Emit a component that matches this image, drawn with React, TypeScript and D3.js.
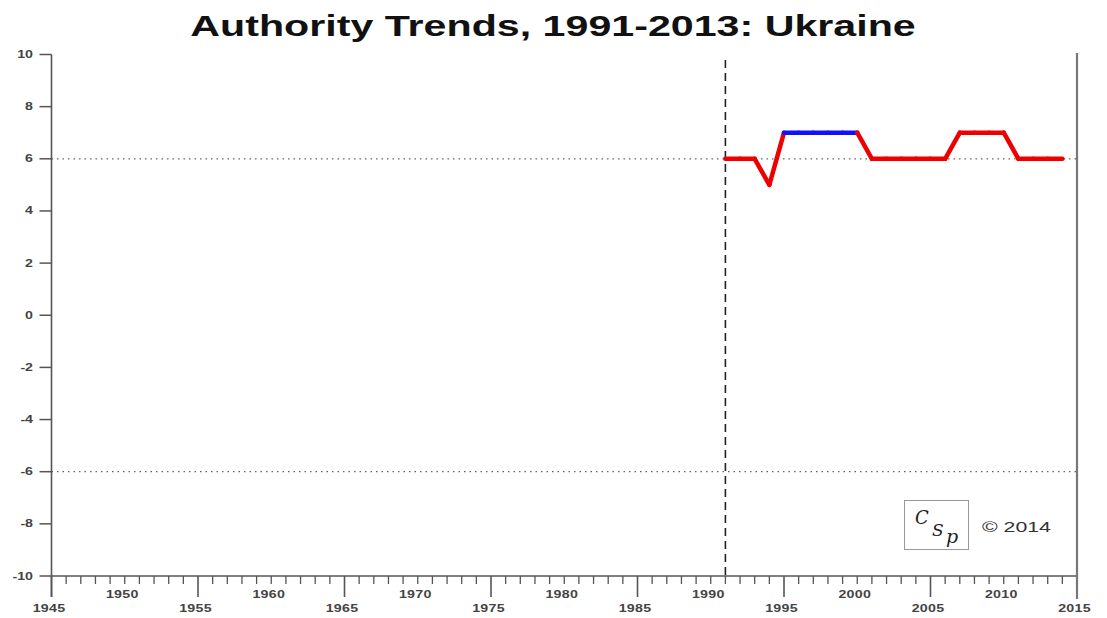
import React from "react";
import * as d3 from "d3";

const years = [1991, 1992, 1993, 1994, 1995, 1996, 1997, 1998, 1999, 2000, 2001, 2002, 2003, 2004, 2005, 2006, 2007, 2008, 2009, 2010, 2011, 2012, 2013, 2014];
const values = [6, 6, 6, 5, 7, 7, 7, 7, 7, 7, 6, 6, 6, 6, 6, 6, 7, 7, 7, 7, 6, 6, 6, 6];
const blueSpans = [[1995, 2000]];
const yTicks = [10, 8, 6, 4, 2, 0, -2, -4, -6, -8, -10];
const xLabelsLow = [1945, 1955, 1965, 1975, 1985, 1995, 2005, 2015];
const xLabelsHigh = [1950, 1960, 1970, 1980, 1990, 2000, 2010];
const refLines = [6, -6];
const transitionYear = 1991;
const title = "Authority Trends, 1991-2013: Ukraine";

const SX = 1.42;

function SText(props: { x: number; y: number; anchor?: string; size: number; bold?: boolean; fill: string; family: string; children: React.ReactNode; ls?: number }) {
  return (
    <g transform={`translate(${props.x},${props.y}) scale(${SX},1)`}>
      <text x={0} y={0} textAnchor={props.anchor || "start"} fontFamily={props.family} fontWeight={props.bold ? "bold" : "normal"} fontSize={props.size} fill={props.fill} letterSpacing={props.ls || 0}>{props.children}</text>
    </g>
  );
}

export default function App() {
  const W = 1107, H = 618;
  const x = d3.scaleLinear().domain([1945, 2015]).range([51.5, 1077]);
  const y = d3.scaleLinear().domain([-10, 10]).range([576, 54.5]);
  const allYears = d3.range(1945, 2016);
  const pts = years.map((yr, i) => ({ yr, v: values[i] }));
  const line = d3.line<{ yr: number; v: number }>().x(d => x(d.yr)).y(d => y(d.v));
  const segs = [] as { d: string; color: string }[];
  for (let i = 0; i < pts.length - 1; i++) {
    const a = pts[i], b = pts[i + 1];
    const blue = blueSpans.some(([s, e]) => a.yr >= s && b.yr <= e);
    segs.push({ d: line([a, b]) as string, color: blue ? "#1010ff" : "#ee0000" });
  }
  const font = "Liberation Sans, Arial, sans-serif";
  return (
    <svg width={W} height={H} style={{ position: "absolute", left: 0, top: 0, background: "#fff" }}>
      <rect width={W} height={H} fill="#fff" />
      <SText x={553} y={36} anchor="middle" family={font} bold size={29} fill="#111">{title}</SText>
      {refLines.map(v => (
        <line key={v} x1={x(1945)} x2={x(2015)} y1={y(v)} y2={y(v)} stroke="#666" strokeWidth={1.3} strokeDasharray="1.5,4" />
      ))}
      <line x1={x(transitionYear)} x2={x(transitionYear)} y1={60} y2={y(-10)} stroke="#222" strokeWidth={1.6} strokeDasharray="8,5" />
      {/* left axis */}
      <line x1={x(1945)} x2={x(1945)} y1={y(10)} y2={597} stroke="#555" strokeWidth={1.6} />
      {yTicks.map(v => (
        <g key={v}>
          <line x1={x(1945) - 12} x2={x(1945)} y1={y(v)} y2={y(v)} stroke="#555" strokeWidth={1.5} />
          <SText x={33} y={y(v) + 3.5} anchor="end" family={font} bold size={10} fill="#444">{v}</SText>
        </g>
      ))}
      {/* bottom axis */}
      <line x1={x(1945)} x2={x(2015)} y1={y(-10)} y2={y(-10)} stroke="#555" strokeWidth={1.5} />
      {allYears.map(yr => {
        const long = yr % 10 === 5;
        return <line key={yr} x1={x(yr)} x2={x(yr)} y1={y(-10)} y2={long ? 597 : 584} stroke="#555" strokeWidth={long ? 1.6 : 1.3} />;
      })}
      {xLabelsHigh.map(yr => (
        <SText key={yr} x={x(yr) - 2.5} y={598} anchor="middle" family={font} bold size={10} fill="#444" ls={0.2}>{yr}</SText>
      ))}
      {xLabelsLow.map(yr => (
        <SText key={yr} x={x(yr) - 2.5} y={612} anchor="middle" family={font} bold size={10} fill="#444" ls={0.2}>{yr}</SText>
      ))}
      {/* right axis */}
      <line x1={x(2015)} x2={x(2015)} y1={53} y2={599} stroke="#777" strokeWidth={2.2} />
      {/* data */}
      {segs.map((s, i) => (
        <path key={i} d={s.d} fill="none" stroke={s.color} strokeWidth={4.5} strokeLinecap="round" />
      ))}
      {/* logo */}
      <rect x={904.5} y={500.5} width={64} height={49} fill="#fff" stroke="#999" strokeWidth={1} />
      <text x={915} y={524} fontFamily="DejaVu Serif, serif" fontStyle="italic" fontSize={18} fill="#222">C</text>
      <text x={932} y={536} fontFamily="DejaVu Serif, serif" fontStyle="italic" fontSize={17} fill="#222">S</text>
      <text x={946} y={543} fontFamily="DejaVu Serif, serif" fontStyle="italic" fontSize={19} fill="#222">p</text>
      <SText x={982} y={532} family={font} size={15} fill="#333">© 2014</SText>
    </svg>
  );
}
